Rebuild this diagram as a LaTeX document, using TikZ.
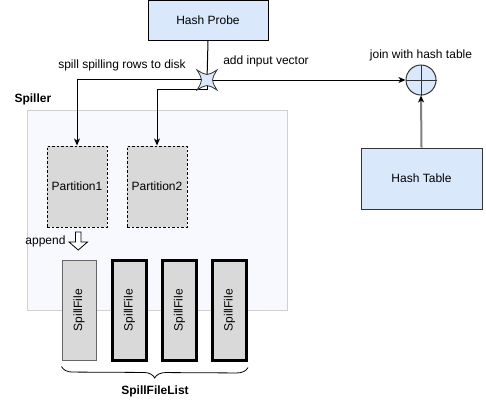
\documentclass[tikz,border=0pt]{standalone}
\usepackage{fontspec}
\setmainfont{Liberation Sans}
\usetikzlibrary{arrows.meta,decorations.pathreplacing,calc}
\definecolor{blueF}{HTML}{DAE8FC}
\definecolor{grayF}{HTML}{D9D9D9}
\definecolor{spillF}{HTML}{F8F8FF}
\definecolor{spillB}{HTML}{D0D0D0}
\definecolor{darkB}{HTML}{333333}
\begin{document}
\begin{tikzpicture}[x=1pt,y=-1pt,
  font=\fontsize{12}{14}\selectfont,
  line width=1pt,
  tip/.style={-{Stealth[length=7pt,width=6pt,inset=2pt]}},
  bluebox/.style={draw=black, fill=blueF, inner sep=0pt},
  partbox/.style={draw=black, fill=grayF, dashed, dash pattern=on 2.5pt off 2pt, inner sep=0pt, minimum width=60pt, minimum height=81pt},
  filebox/.style={fill=grayF, inner sep=0pt, minimum width=34pt, minimum height=100pt},
  thick file/.style={filebox, draw=black, line width=3pt},
  thin file/.style={filebox, draw=gray!80!black, line width=1pt},
  lbl/.style={inner sep=0pt}
]
\useasboundingbox (0,0) rectangle (486,408);

% Spiller container
\node[draw=spillB, fill=spillF, minimum width=260pt, minimum height=200pt, inner sep=0pt, line width=0.8pt] (spiller) at (157,210) {};
\node[lbl, font=\fontsize{12}{14}\selectfont\bfseries, anchor=west] (spillerlbl) at (14,99) {Spiller};

% top boxes
\node[bluebox, minimum width=120pt, minimum height=40pt] (hp) at (208,20.5) {Hash Probe};
\node[bluebox, draw=darkB, minimum width=121pt, minimum height=61pt] (ht) at (421.5,178.5) {Hash Table};

% join circle
\node[circle, draw=darkB, fill=blueF, minimum size=30pt, inner sep=0pt] (join) at (421,80) {};
\draw[darkB] (join.north) -- (join.south) (join.west) -- (join.east);
\node[lbl] (joinlbl) at (421,55) {join with hash table};

% partitions
\node[partbox] (p1) at (77,186.5) {Partition1};
\node[partbox] (p2) at (157,186.5) {Partition2};

% switch node
\coordinate (sw) at (207,80);

% connectors
\draw (hp.south) -- (sw);
\draw[tip] ([yshift=1pt]sw) -| (p1.north);
\draw[tip] (sw) -- ++(0,9) -| (p2.north);
\draw[tip] (sw) -- (join.west);
\draw[draw=gray, line width=2pt, -{Stealth[length=7pt,width=6pt,inset=2pt,color=black]}] (ht.north) -- (join.south);

% switch star shape
\draw[fill=blueF, draw=darkB, line width=0.8pt]
  (197,70) .. controls (207,76) .. (217,70)
  .. controls (211,80) .. (217,90)
  .. controls (207,84) .. (197,90)
  .. controls (203,80) .. (197,70) -- cycle;

\node[lbl] (spilllbl) at (122,65) {spill spilling rows to disk};
\node[lbl] (addlbl) at (266,61) {add input vector};

% append
\node[lbl, anchor=east] (appendlbl) at (66,241) {append};
\draw[fill=white, line width=0.8pt] (75.5,232) -- (81,232) -- (81,242) -- (87.5,242) -- (78.25,250) -- (69,242) -- (75.5,242) -- cycle;

% spill files
\node[thin file] (f1) at (79,310) {\rotatebox{90}{SpillFile}};
\node[thick file] (f2) at (129.5,310) {\rotatebox{90}{SpillFile}};
\node[thick file] (f3) at (179.5,310) {\rotatebox{90}{SpillFile}};
\node[thick file] (f4) at (229.5,310) {\rotatebox{90}{SpillFile}};

% brace
\draw[decorate, decoration={brace, mirror, amplitude=11pt}, line width=0.8pt]
  ([yshift=-6pt]f1.south west) -- ([yshift=-6pt]f4.south east);
\node[lbl, font=\fontsize{12}{14}\selectfont\bfseries] (listlbl) at (155,391) {SpillFileList};
\end{tikzpicture}
\end{document}
